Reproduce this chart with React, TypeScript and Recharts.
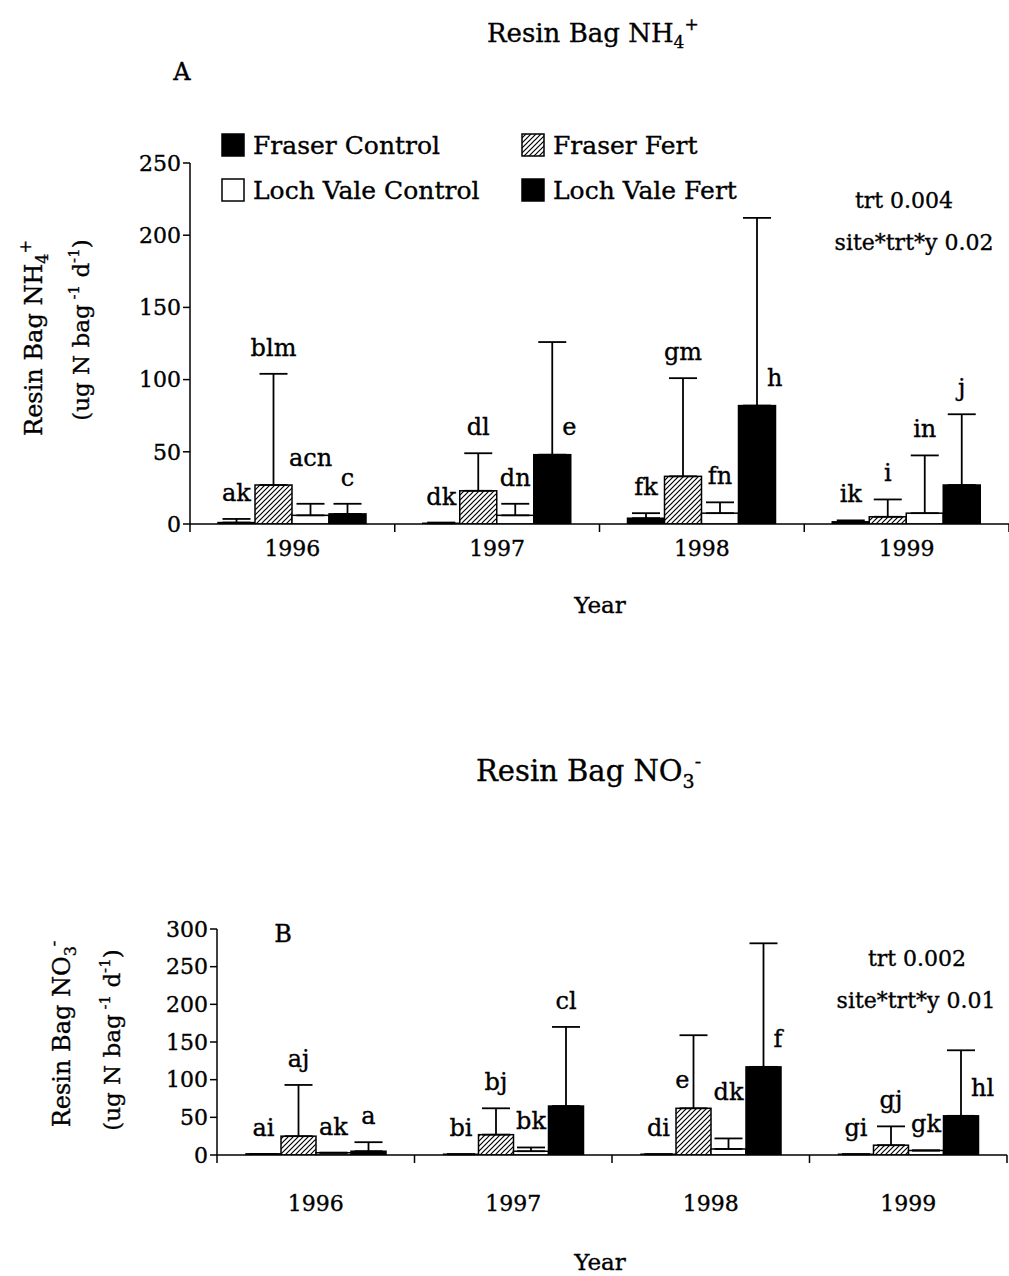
import React from 'react';
import { BarChart, Bar, XAxis, YAxis, ErrorBar } from 'recharts';

// ---------------- data ----------------
const years = ['1996', '1997', '1998', '1999'];
const seriesNames = ['Fraser Control', 'Fraser Fert', 'Loch Vale Control', 'Loch Vale Fert'];

// Panel A: Resin bag NH4+
const nh4FraserControl = [1, 0.5, 4, 1.5];
const nh4FraserControlErr = [2.5, 0.5, 3.5, 1];
const nh4FraserFert = [27, 23, 33, 5];
const nh4FraserFertErr = [77, 26, 68, 12];
const nh4LochControl = [6, 6, 7.5, 7.5];
const nh4LochControlErr = [8, 8, 7.5, 40];
const nh4LochFert = [7, 48, 82, 27];
const nh4LochFertErr = [7, 78, 130, 49];

const nh4LabFraserControl = ['ak', 'dk', 'fk', 'ik'];
const nh4LabFraserFert = ['blm', 'dl', 'gm', 'i'];
const nh4LabLochControl = ['acn', 'dn', 'fn', 'in'];
const nh4LabLochFert = ['c', 'e', 'h', 'j'];
const nh4YTicks = [0, 50, 100, 150, 200, 250];

// Panel B: Resin bag NO3-
const no3FraserControl = [1.5, 1, 1, 1];
const no3FraserControlErr = [0, 0, 0, 0];
const no3FraserFert = [25, 27, 62, 13];
const no3FraserFertErr = [68, 35, 97, 25];
const no3LochControl = [3, 5, 8, 6];
const no3LochControlErr = [0, 5, 14, 0];
const no3LochFert = [5, 65, 117, 52];
const no3LochFertErr = [12, 105, 164, 87];

const no3LabFraserControl = ['ai', 'bi', 'di', 'gi'];
const no3LabFraserFert = ['aj', 'bj', 'e', 'gj'];
const no3LabLochControl = ['ak', 'bk', 'dk', 'gk'];
const no3LabLochFert = ['a', 'cl', 'f', 'hl'];
const no3YTicks = [0, 50, 100, 150, 200, 250, 300];

// ---------------- styling / layout ----------------
const W = 1009;
const H = 1276;
const FONT = "'DejaVu Serif', 'Liberation Serif', serif";
const FILLS = ['#000', 'url(#hatchFF)', '#fff', '#000'];
const INK = { fill: '#000', stroke: '#000', strokeWidth: 0.35 };

// label placement relative to bar: 'above' error cap, 'high' further above, 'right' / 'left' of error line
const nh4Place = [
  ['above', 'above', 'above', 'above'],
  ['above', 'above', 'above', 'above'],
  ['high', 'above', 'above', 'above'],
  ['above', 'right', 'right', 'above'],
];
const no3Place = [
  ['above', 'above', 'above', 'above'],
  ['above', 'above', 'left', 'above'],
  ['above', 'above', 'high', 'above'],
  ['above', 'above', 'right', 'right'],
];

const buildRows = (vals: number[][], errs: number[][]) =>
  years.map((y, i) => {
    const row: any = { year: y };
    vals.forEach((v, s) => {
      row['v' + s] = v[i];
      row['e' + s] = [0, errs[s][i]];
    });
    return row;
  });

const panelA = {
  values: [nh4FraserControl, nh4FraserFert, nh4LochControl, nh4LochFert],
  errs: [nh4FraserControlErr, nh4FraserFertErr, nh4LochControlErr, nh4LochFertErr],
  labels: [nh4LabFraserControl, nh4LabFraserFert, nh4LabLochControl, nh4LabLochFert],
  places: nh4Place,
  ticks: nh4YTicks,
  yMax: 250,
  left: 190,
  right: 1009,
  top: 163,
  bottom: 524,
  barSize: 37,
  tickBase: 556,
};

const panelB = {
  values: [no3FraserControl, no3FraserFert, no3LochControl, no3LochFert],
  errs: [no3FraserControlErr, no3FraserFertErr, no3LochControlErr, no3LochFertErr],
  labels: [no3LabFraserControl, no3LabFraserFert, no3LabLochControl, no3LabLochFert],
  places: no3Place,
  ticks: no3YTicks,
  yMax: 300,
  left: 217,
  right: 1007,
  top: 929,
  bottom: 1155,
  barSize: 35,
  tickBase: 1211,
};

function Panel({ cfg }: { cfg: any }) {
  const { left, right, top, bottom, yMax } = cfg;
  const plotH = bottom - top;
  const catW = (right - left) / 4;
  const yPx = (v: number) => bottom - (v / yMax) * plotH;
  const data = buildRows(cfg.values, cfg.errs);

  const makeShape = (s: number) => (props: any) => {
    const { x, y, width, height, index } = props;
    const cx = x + width / 2;
    const val = cfg.values[s][index];
    const err = cfg.errs[s][index];
    const capY = yPx(val + err);
    const place = cfg.places[s][index];
    let tx = cx;
    let ty = capY - 18;
    let anchor: any = 'middle';
    if (place === 'high') {
      ty = capY - 38;
    } else if (place === 'right') {
      tx = cx + 10;
      ty = y - 20;
      anchor = 'start';
    } else if (place === 'left') {
      tx = cx - 4;
      ty = y - 20;
      anchor = 'end';
    }
    return (
      <g>
        <rect
          x={x}
          y={y}
          width={width}
          height={Math.max(height, 0)}
          fill={FILLS[s]}
          stroke="#000"
          strokeWidth={1.5}
        />
        <text x={tx} y={ty} textAnchor={anchor} fontFamily={FONT} fontSize={24} {...INK}>
          {cfg.labels[s][index]}
        </text>
      </g>
    );
  };

  const XTick = (props: any) => {
    const { x, payload, index } = props;
    return (
      <g>
        <line x1={x - catW / 2} x2={x - catW / 2} y1={bottom} y2={bottom + 8} stroke="#000" strokeWidth={1.5} />
        {index === 3 && (
          <line x1={x + catW / 2} x2={x + catW / 2} y1={bottom} y2={bottom + 8} stroke="#000" strokeWidth={1.5} />
        )}
        <text x={x} y={cfg.tickBase} textAnchor="middle" fontFamily={FONT} fontSize={22} {...INK}>
          {payload.value}
        </text>
      </g>
    );
  };

  return (
    <div style={{ position: 'absolute', left: 0, top: 0 }}>
      <BarChart
        width={W}
        height={H}
        data={data}
        margin={{ top, right: W - right, bottom: H - bottom - 30, left: left - 60 }}
        barGap={0}
        barSize={cfg.barSize}
      >
        <XAxis
          dataKey="year"
          tickLine={false}
          axisLine={{ stroke: '#000', strokeWidth: 1.5 }}
          tick={(p: any) => <XTick {...p} />}
          height={30}
          interval={0}
        />
        <YAxis
          type="number"
          domain={[0, yMax]}
          ticks={cfg.ticks}
          width={60}
          interval={0}
          allowDataOverflow
          axisLine={{ stroke: '#000', strokeWidth: 1.5 }}
          tickLine={{ stroke: '#000', strokeWidth: 1.5 }}
          tickSize={7}
          tick={{ fontSize: 22, fontFamily: FONT, ...INK }}
        />
        {[0, 1, 2, 3].map((s) => (
          <Bar
            key={s}
            dataKey={'v' + s}
            name={seriesNames[s]}
            barSize={cfg.barSize}
            shape={makeShape(s)}
            isAnimationActive={false}
          >
            <ErrorBar dataKey={'e' + s} width={14} stroke="#000" strokeWidth={1.8} direction="y" />
          </Bar>
        ))}
      </BarChart>
    </div>
  );
}

function Overlay() {
  const t = { fontFamily: FONT, ...INK } as any;
  const legendPos = [
    [222, 134],
    [522, 134],
    [222, 179],
    [522, 179],
  ];
  return (
    <svg width={W} height={H} style={{ position: 'absolute', left: 0, top: 0, pointerEvents: 'none' }}>
      {/* Titles */}
      <text x={487} y={42} fontSize={26} {...t}>
        Resin Bag NH<tspan fontSize={17} dy={6}>4</tspan>
        <tspan fontSize={17} dy={-18}>+</tspan>
      </text>
      <text x={182} y={80} fontSize={24} textAnchor="middle" {...t}>A</text>
      <text x={476} y={781} fontSize={29} {...t}>
        Resin Bag NO<tspan fontSize={19} dy={7}>3</tspan>
        <tspan fontSize={19} dy={-20}>-</tspan>
      </text>
      <text x={283} y={942} fontSize={24} textAnchor="middle" {...t}>B</text>

      {/* Legend */}
      {seriesNames.map((n, i) => (
        <g key={n}>
          <rect x={legendPos[i][0]} y={legendPos[i][1]} width={22} height={22} fill={FILLS[i]} stroke="#000" strokeWidth={1.5} />
          <text x={legendPos[i][0] + 31} y={legendPos[i][1] + 20} fontSize={25} {...t}>{n}</text>
        </g>
      ))}

      {/* Stats */}
      <text x={904} y={208} fontSize={22} textAnchor="middle" {...t}>trt 0.004</text>
      <text x={914} y={250} fontSize={22} textAnchor="middle" {...t}>site*trt*y 0.02</text>
      <text x={917} y={966} fontSize={22} textAnchor="middle" {...t}>trt 0.002</text>
      <text x={916} y={1008} fontSize={22} textAnchor="middle" {...t}>site*trt*y 0.01</text>

      {/* X axis titles */}
      <text x={600} y={613} fontSize={23} textAnchor="middle" {...t}>Year</text>
      <text x={600} y={1270} fontSize={23} textAnchor="middle" {...t}>Year</text>

      {/* Y axis titles */}
      <text transform="translate(42,338) rotate(-90)" fontSize={24} textAnchor="middle" {...t}>
        Resin Bag NH<tspan fontSize={16} dy={6}>4</tspan>
        <tspan fontSize={16} dy={-17}>+</tspan>
      </text>
      <text transform="translate(89,330) rotate(-90)" fontSize={23} textAnchor="middle" {...t}>
        (ug N bag<tspan fontSize={15} dy={-10}> -1</tspan>
        <tspan dy={10}> d</tspan>
        <tspan fontSize={15} dy={-10}>-1</tspan>
        <tspan dy={10}>)</tspan>
      </text>
      <text transform="translate(70,1034) rotate(-90)" fontSize={24} textAnchor="middle" {...t}>
        Resin Bag NO<tspan fontSize={16} dy={6}>3</tspan>
        <tspan fontSize={16} dy={-17}>-</tspan>
      </text>
      <text transform="translate(120,1040) rotate(-90)" fontSize={23} textAnchor="middle" {...t}>
        (ug N bag<tspan fontSize={15} dy={-10}> -1</tspan>
        <tspan dy={10}> d</tspan>
        <tspan fontSize={15} dy={-10}>-1</tspan>
        <tspan dy={10}>)</tspan>
      </text>
    </svg>
  );
}

export default function App() {
  return (
    <div style={{ position: 'absolute', left: 0, top: 0, width: W, height: H, background: '#fff', overflow: 'hidden' }}>
      <svg width={0} height={0} style={{ position: 'absolute' }}>
        <defs>
          <pattern id="hatchFF" patternUnits="userSpaceOnUse" width={5} height={5}>
            <rect width={5} height={5} fill="#fff" />
            <path d="M-1,1 l2,-2 M0,5 l5,-5 M4,6 l2,-2" stroke="#000" strokeWidth={1.2} />
          </pattern>
        </defs>
      </svg>
      <Panel cfg={panelA} />
      <Panel cfg={panelB} />
      <Overlay />
    </div>
  );
}
